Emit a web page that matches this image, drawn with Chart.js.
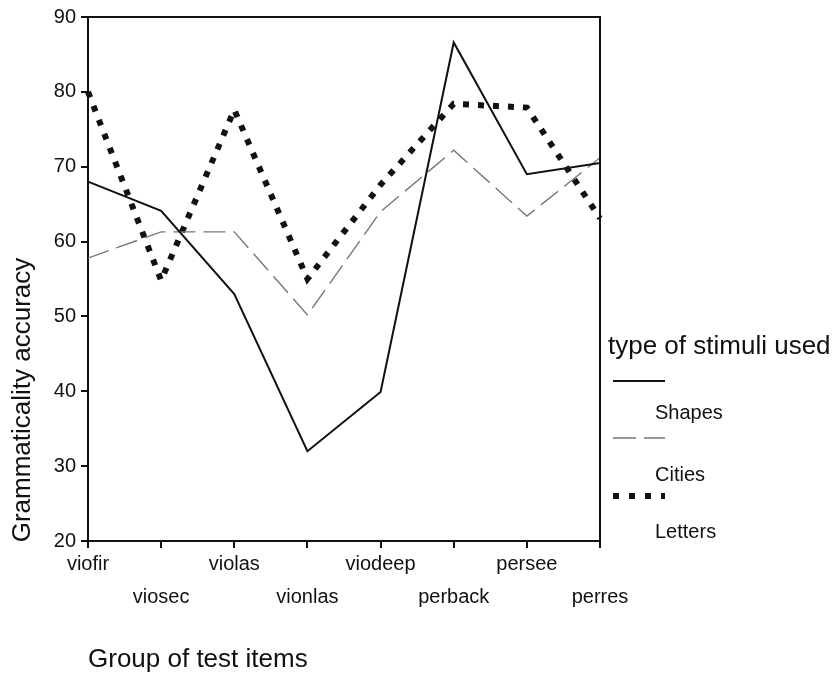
<!DOCTYPE html>
<html lang="en">
<head>
    <meta charset="UTF-8">
    <title>Grammaticality accuracy by group of test items</title>
    <script src="https://cdn.jsdelivr.net/npm/chart.js"></script>
    <style>
        body {
            margin: 0;
            padding: 0;
            background-color: #fff;
        }
        #box {
            width: 833px;
            height: 675px;
        }
    </style>
</head>
<body>
    <div id="box">
        <canvas id="grafico" width="833" height="675"></canvas>
    </div>

    <script>
        // categories (x axis) and values
        const categories = ['viofir', 'viosec', 'violas', 'vionlas', 'viodeep', 'perback', 'persee', 'perres'];
        const shapes  = [68.0, 64.1, 53.0, 32.0, 39.9, 86.6, 69.0, 70.5];
        const cities  = [57.8, 61.3, 61.3, 50.2, 64.0, 72.2, 63.4, 71.2];
        const letters = [80.0, 54.8, 77.6, 55.0, 67.6, 78.4, 77.9, 63.1];
        const seriesNames = ['Shapes', 'Cities', 'Letters'];
        const yTicks = [20, 30, 40, 50, 60, 70, 80, 90];

        const FONT = 'Arial, "Liberation Sans", sans-serif';
        const INK = '#111';

        // titles, frame and the stacked legend are drawn here
        const decorPlugin = {
            id: 'decor',
            afterDraw(chart) {
                const c = chart.ctx;
                const a = chart.chartArea;
                c.save();

                // top and right side of the frame
                c.strokeStyle = INK;
                c.lineWidth = 2;
                c.beginPath();
                c.moveTo(a.left, a.top);
                c.lineTo(a.right, a.top);
                c.lineTo(a.right, a.bottom);
                c.stroke();

                c.fillStyle = INK;
                c.font = '26px ' + FONT;

                // y axis title
                c.save();
                c.translate(23, 400);
                c.rotate(-Math.PI / 2);
                c.textAlign = 'center';
                c.textBaseline = 'middle';
                c.fillText('Grammaticality accuracy', 0, 0);
                c.restore();

                // x axis title
                c.textAlign = 'left';
                c.textBaseline = 'middle';
                c.fillText('Group of test items', a.left, 660);

                // legend
                c.fillText('type of stimuli used', 608, 347);
                const sampleY = [381, 438, 496];
                const labelY = [413, 475, 532];
                chart.data.datasets.forEach((ds, i) => {
                    c.save();
                    c.strokeStyle = ds.borderColor;
                    c.lineWidth = ds.borderWidth;
                    c.lineCap = 'butt';
                    c.setLineDash(ds.legendDash || []);
                    c.beginPath();
                    c.moveTo(613, sampleY[i]);
                    c.lineTo(665, sampleY[i]);
                    c.stroke();
                    c.restore();
                    c.font = '20px ' + FONT;
                    c.fillText(ds.label, 655, labelY[i]);
                });
                c.restore();
            }
        };

        const ctx = document.getElementById('grafico').getContext('2d');
        const chart = new Chart(ctx, {
            type: 'line',
            data: {
                labels: categories,
                datasets: [
                    {
                        label: seriesNames[0],
                        data: shapes,
                        borderColor: '#111',
                        borderWidth: 2,
                        pointRadius: 0,
                        tension: 0
                    },
                    {
                        label: seriesNames[1],
                        data: cities,
                        borderColor: '#777',
                        borderWidth: 1.4,
                        borderDash: [22, 8],
                        legendDash: [23, 8],
                        pointRadius: 0,
                        tension: 0
                    },
                    {
                        label: seriesNames[2],
                        data: letters,
                        borderColor: '#111',
                        borderWidth: 6,
                        borderDash: [6, 9],
                        legendDash: [6, 10],
                        borderCapStyle: 'butt',
                        pointRadius: 0,
                        tension: 0
                    }
                ]
            },
            options: {
                responsive: false,
                animation: false,
                layout: { padding: { left: 0, right: 233, top: 15, bottom: 0 } },
                plugins: {
                    legend: { display: false },
                    tooltip: { enabled: false }
                },
                scales: {
                    x: {
                        offset: false,
                        grid: { display: true, drawOnChartArea: false, drawTicks: true, tickLength: 7, color: '#111', lineWidth: 2 },
                        border: { display: true, color: '#111', width: 2 },
                        ticks: {
                            autoSkip: false,
                            maxRotation: 0,
                            padding: 0,
                            color: INK,
                            font: { family: FONT, size: 20, lineHeight: 1.65 },
                            // every second label sits on a lower row
                            callback: function (value, index) {
                                const name = categories[index];
                                return index % 2 === 0 ? name : ['', name];
                            }
                        },
                        afterFit: function (scale) { scale.height = 134; }
                    },
                    y: {
                        min: 20,
                        max: 90,
                        afterBuildTicks: function (scale) {
                            scale.ticks = yTicks.map(v => ({ value: v }));
                        },
                        grid: { display: true, drawOnChartArea: false, drawTicks: true, tickLength: 7, color: '#111', lineWidth: 2 },
                        border: { display: true, color: '#111', width: 2 },
                        ticks: {
                            padding: 5,
                            color: INK,
                            font: { family: FONT, size: 20 }
                        },
                        afterFit: function (scale) { scale.width = 88; }
                    }
                }
            },
            plugins: [decorPlugin]
        });
    </script>
</body>
</html>
